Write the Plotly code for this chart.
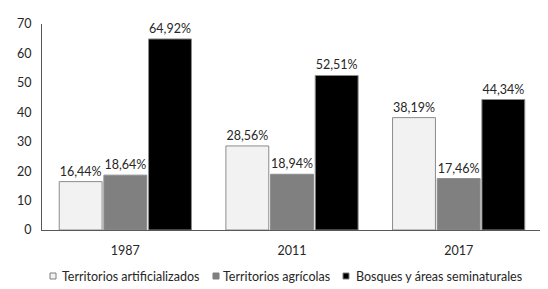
import plotly.graph_objects as go

years = ["1987", "2011", "2017"]
series_names = ["Territorios artificializados", "Territorios agrícolas", "Bosques y áreas seminaturales"]
artificial = [16.44, 28.56, 38.19]
agricola = [18.64, 18.94, 17.46]
bosques = [64.92, 52.51, 44.34]
colors = ["#F2F2F2", "#808080", "#000000"]
y_ticks = [0, 10, 20, 30, 40, 50, 60, 70]

font_family = "Lato, sans-serif"
text_color = "#262626"

W, H = 548, 289
ML, MR, MT, MB = 34, 14, 16, 67
PW, PH = W - ML - MR, H - MT - MB

fig = go.Figure()
for name, vals, col in zip(series_names, [artificial, agricola, bosques], colors):
    fig.add_trace(go.Bar(
        x=years, y=vals, name=name,
        marker=dict(color=col, line=dict(color="#8C8C8C", width=1)),
        texttemplate="%{y:.2f}%", textposition="outside",
        textfont=dict(size=12.5, color=text_color, family=font_family),
        cliponaxis=False, showlegend=False,
    ))

# manual single-row legend (square marker + label), placed in paper coords
legend_square_px = [42, 205, 335]
legend_text_px = [52, 213, 346]
legend_y_px = 268
ly = (MT + PH - legend_y_px) / PH
for name, col, sx, tx in zip(series_names, colors, legend_square_px, legend_text_px):
    fig.add_shape(type="rect", xref="paper", yref="paper",
                  xsizemode="pixel", ysizemode="pixel",
                  xanchor=(sx - ML) / PW, yanchor=ly,
                  x0=0, x1=6, y0=-3, y1=3,
                  fillcolor=col, line=dict(color="#7F7F7F", width=1))
    fig.add_annotation(text=name, xref="paper", yref="paper",
                       x=(tx - ML) / PW, y=ly, xanchor="left", yanchor="middle",
                       showarrow=False, font=dict(size=12.5, color=text_color, family=font_family))

fig.update_layout(
    width=W, height=H,
    margin=dict(l=ML, r=MR, t=MT, b=MB, autoexpand=False),
    barmode="group", bargap=0.196, bargroupgap=0.04,
    separators=",.",
    plot_bgcolor="white", paper_bgcolor="white",
    font=dict(family=font_family, size=12.5, color=text_color),
    showlegend=False,
    xaxis=dict(showline=True, linecolor="#595959", linewidth=1, ticks="",
               tickfont=dict(size=12.5), showgrid=False, ticklabelstandoff=9,
               automargin=False),
    yaxis=dict(range=[0, 70], tickvals=y_ticks, showline=True, linecolor="#595959",
               linewidth=1, showgrid=False, zeroline=False, ticks="",
               tickfont=dict(size=12.5), ticklabelstandoff=7, automargin=False),
)
fig.write_html("out.html")
